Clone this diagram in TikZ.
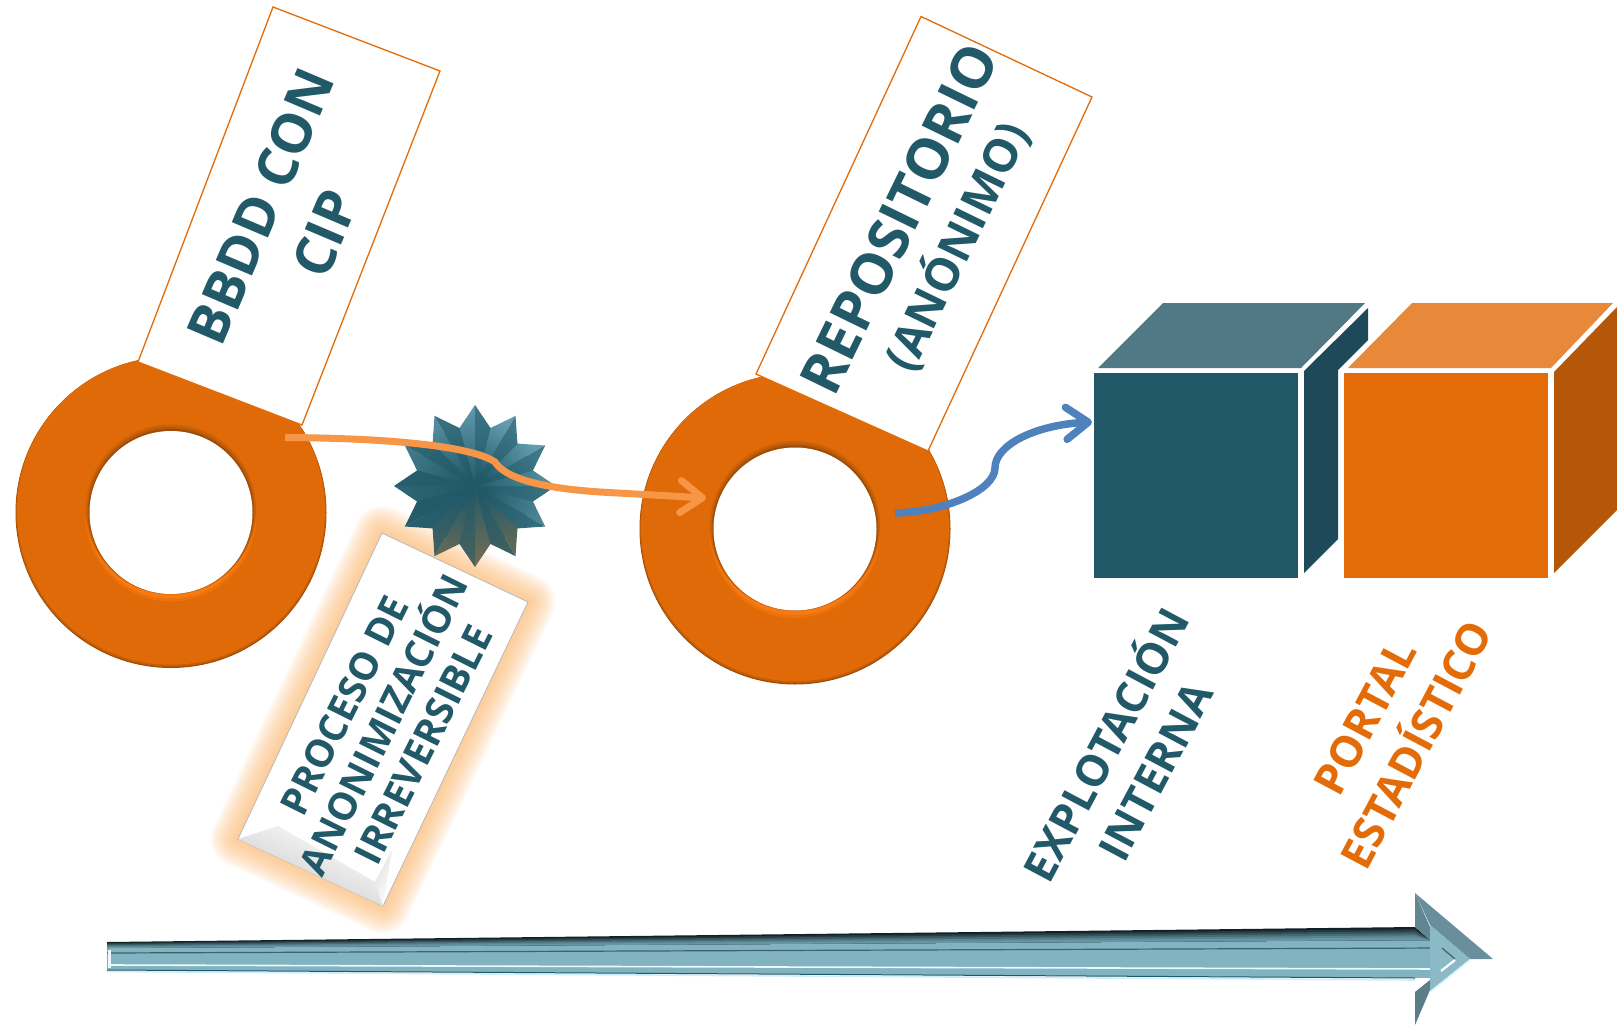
\documentclass[tikz,border=0pt]{standalone}
\usepackage{fontspec}
\setmainfont{Open Sans}
\usetikzlibrary{arrows.meta}
\definecolor{teal}{HTML}{215968}
\definecolor{tealtop}{HTML}{507985}
\definecolor{tealside}{HTML}{1D4958}
\definecolor{ora}{HTML}{E36C09}
\definecolor{oratop}{HTML}{E8893A}
\definecolor{oraside}{HTML}{B45708}
\definecolor{ringc}{HTML}{DF6A07}
\definecolor{ringd}{HTML}{9C4C08}
\definecolor{ringl}{HTML}{F97A0E}
\definecolor{lineo}{HTML}{F79646}
\definecolor{lineb}{HTML}{4F81BD}
\definecolor{starlit}{HTML}{6AA3B6}
\definecolor{arrowm}{HTML}{82B3C1}
\definecolor{glowc}{HTML}{FBB870}
\tikzset{
  holenode/.style={circle,fill=white,minimum size=163pt,inner sep=0pt,outer sep=0pt},
  labelbox/.style={draw=ora,line width=1.3pt,fill=white,line join=miter},
  bigtxt/.style 2 args={text=teal,font=\fontsize{#1}{#2}\selectfont\bfseries,align=center,inner sep=0pt},
  orangeflow/.style={draw=lineo,line width=7pt,-{Straight Barb[length=22pt,width=32pt,round]}},
  blueflow/.style={draw=lineb,line width=7.5pt,-{Straight Barb[length=22pt,width=32pt,round]}},
  pics/ringdisc/.style={code={
    \fill[ringd] (0,0) circle[radius=155.5];
    \fill[black!12!ringc] (0,-0.8) circle[radius=155];
    \fill[ringc] (0,-1.8) circle[radius=154];
    \fill[ringl!50!ringc] (0,4) circle[radius=85];
    \fill[ringl] (0,2.5) circle[radius=83.5];
    \fill[ringd!30!ringc] (0,-3) circle[radius=85];
    \fill[ringd!60!ringc] (0,-2) circle[radius=83.5];
    \fill[ringd] (0,-1) circle[radius=82.5];
  }},
}
\begin{document}
\begin{tikzpicture}[x=1pt,y=-1pt]
\useasboundingbox (0,0) rectangle (1617,1025);
% rings
\pic at (171,512.5) {ringdisc};
\node[holenode] (ringA) at (171,512.5) {};
\pic at (795,529) {ringdisc};
\node[holenode] (ringB) at (795,529) {};
% label boxes
\draw[labelbox] (138,362) -- (273,7) -- (440,71) -- (302,425) -- cycle;
\draw[labelbox] (756,374) -- (921,16.5) -- (1092,97) -- (928,451) -- cycle;
\node[bigtxt={55}{70},rotate=67] (tA) at (293,220) {BBDD CON\\CIP};
\node[bigtxt={57}{60},rotate=64] (tB) at (929,233) {REPOSITORIO\\{\fontsize{46}{50}\selectfont (ANÓNIMO)}};
% glow
\foreach \w in {4,9,...,54}
  \draw[draw=glowc,line width=\w pt,opacity=.1,line join=round]
    (382,533) -- (528,602) -- (383,906) -- (238,839) -- cycle;
% star
\begin{scope}[shift={(475,486)}]
\fill[teal] (0,0) circle[radius=60];
\foreach \i in {0,...,11}{
  \pgfmathsetmacro\ph{30*\i}
  \pgfmathsetmacro\lit{max(8,min(92,50+50*cos(\ph-50)))}
  \pgfmathsetmacro\ang{-\ph}
  \pgfmathsetmacro\shd{\ph-90}
  \pgfmathtruncatemacro\k{\i}
  \ifnum\k=9 \colorlet{tipc}{brown!55!teal}\else
  \ifnum\k=8 \colorlet{tipc}{brown!40!teal}\else
  \ifnum\k=10 \colorlet{tipc}{brown!40!teal}\else
  \colorlet{tipc}{starlit!\lit!teal}\fi\fi\fi
  \shade[shading=axis,top color=tipc,middle color=teal,bottom color=teal,shading angle=\shd]
    (0,0) -- (\ang:81) -- (\ang-15:60) -- cycle;
  \shade[shading=axis,top color=tipc!45!teal,middle color=teal,bottom color=teal,shading angle=\shd]
    (0,0) -- (\ang:81) -- (\ang+15:60) -- cycle;
}
\end{scope}
% process box
\draw[fill=white,draw=black!28,line width=.8pt] (382,533) -- (528,602) -- (383,906) -- (238,839) -- cycle;
\shade[shading=axis,top color=white,bottom color=black!22,shading angle=-25]
  (238,839) -- (383,906) -- (375,882) -- (278,826) -- cycle;
\shade[shading=axis,top color=white,bottom color=black!12,shading angle=-115]
  (383,906) -- (375,882) -- (392,850) -- cycle;
\node[bigtxt={38.5}{44},rotate=63.5] (tC) at (384,725) {PROCESO DE\\ANONIMIZACIÓN\\IRREVERSIBLE};
% cubes
\fill[teal] (1094,373) rectangle (1298,578);
\fill[tealtop] (1098,368) -- (1301,368) -- (1365,303) -- (1163,303) -- cycle;
\fill[tealside] (1304,371) -- (1368,308) -- (1368,340) -- (1338,370) -- (1338,539) -- (1304,573) -- cycle;
\fill[ora] (1344,373) rectangle (1548,578);
\fill[oratop] (1348,368) -- (1551,368) -- (1613,303) -- (1412,303) -- cycle;
\fill[oraside] (1554,372) -- (1617,307) -- (1617,510) -- (1554,573) -- cycle;
% connectors
\coordinate (oStart) at (285,437.5);
\coordinate (oEnd) at (706,498);
\coordinate (bStart) at (895,513);
\coordinate (bEnd) at (1092,422);
\draw[orangeflow] (oStart) .. controls (380,438) and (470,445) .. (495,462)
  .. controls (505,478) and (540,488) .. (600,492) -- (oEnd);
\draw[blueflow] (bStart) .. controls (945,512) and (995,490) .. (995,468)
  .. controls (995,445) and (1035,425) .. (bEnd);
% cube labels
\node[bigtxt={43.5}{56},rotate=62] (tD) at (1127,756) {EXPLOTACIÓN\\INTERNA};
\node[bigtxt={43.5}{58},rotate=62,text=ora] (tE) at (1391,731) {PORTAL\\ESTADÍSTICO};
% big arrow
\fill[arrowm] (107,948) -- (1430,940) -- (1430,978) -- (107,970) -- cycle;
\foreach \i/\c in {0/90,1/72,2/54,3/36,4/20,5/8}{
  \fill[black!\c!arrowm!80!teal] (107,942+\i) -- (1415,927+2.1*\i) -- (1430,940) -- (107,948) -- cycle;
}
\draw[line width=1.6pt,cyan!20!white] (107,971.5) -- (1415,980);
\draw[line width=1pt,teal] (107,970) -- (1415,978);
\draw[line width=1.2pt,teal!80!black!85] (107,953) -- (1442,948);
\draw[line width=1.6pt,cyan!8!white] (110,965) -- (1440,969);
\draw[line width=3pt,cyan!8!white] (109.5,950) -- (109.5,968);
\fill[black!25!arrowm] (1415,893) -- (1430,927) -- (1430,940) -- (1415,927) -- cycle;
\fill[black!30!arrowm] (1415,992) -- (1430,980) -- (1430,990) -- (1415,1025) -- cycle;
\fill[arrowm!80!black] (1415,893) -- (1493,959) -- (1470,959) -- (1430,925) -- cycle;
\fill[arrowm!92!white] (1430,925) -- (1470,959) -- (1430,991) -- cycle;
\draw[line width=1.2pt,teal!80!black!85] (1442,948) -- (1455,959);
\draw[line width=2.2pt,white] (1441,971) -- (1455,960);
\draw[line width=1.6pt,cyan!15!white] (1430,992) -- (1470,960);
\end{tikzpicture}
\end{document}
